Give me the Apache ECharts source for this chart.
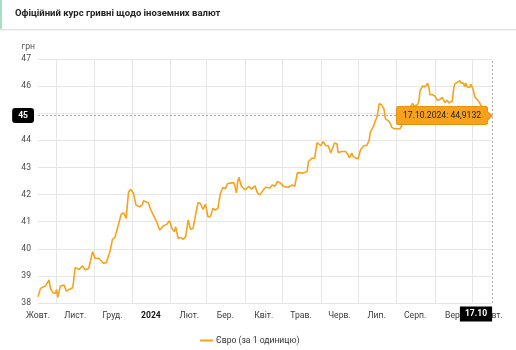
<!DOCTYPE html>
<html>
<head>
<meta charset="utf-8">
<script src="https://cdn.jsdelivr.net/npm/echarts@6/dist/echarts.min.js"></script>
<style>
  html, body { margin: 0; padding: 0; background: #fff; }
  #chart { width: 516px; height: 350px; }
</style>
</head>
<body>
<div id="chart"></div>
<script>
// Official UAH rate per 1 EUR, Oct 2023 - Oct 2024
const dates = [
  '2023-10-17','2023-10-19','2023-10-20','2023-10-23','2023-10-24','2023-10-26','2023-10-27','2023-10-29','2023-10-31',
  '2023-11-01','2023-11-02','2023-11-04','2023-11-07','2023-11-09','2023-11-11','2023-11-14','2023-11-16','2023-11-19','2023-11-22','2023-11-24','2023-11-27','2023-11-30',
  '2023-12-02','2023-12-05','2023-12-07','2023-12-09','2023-12-11','2023-12-14','2023-12-16','2023-12-18','2023-12-20','2023-12-23','2023-12-25','2023-12-27','2023-12-29','2023-12-31',
  '2024-01-02','2024-01-04','2024-01-07','2024-01-09','2024-01-10','2024-01-14','2024-01-16','2024-01-18','2024-01-21','2024-01-23','2024-01-26','2024-01-29','2024-01-31',
  '2024-02-02','2024-02-04','2024-02-05','2024-02-07','2024-02-09','2024-02-11','2024-02-13','2024-02-15','2024-02-17','2024-02-19','2024-02-21','2024-02-23','2024-02-25','2024-02-27','2024-02-29',
  '2024-03-02','2024-03-04','2024-03-06','2024-03-08','2024-03-10','2024-03-12','2024-03-14','2024-03-16','2024-03-18','2024-03-21','2024-03-23','2024-03-25','2024-03-26','2024-03-27','2024-03-29',
  '2024-04-01','2024-04-04','2024-04-06','2024-04-09','2024-04-11','2024-04-13','2024-04-16','2024-04-18','2024-04-21','2024-04-23','2024-04-25','2024-04-27','2024-04-29',
  '2024-05-02','2024-05-06','2024-05-09','2024-05-11','2024-05-13','2024-05-15','2024-05-18','2024-05-19','2024-05-21','2024-05-22','2024-05-23','2024-05-25','2024-05-27','2024-05-29','2024-05-30',
  '2024-06-01','2024-06-03','2024-06-05','2024-06-07','2024-06-09','2024-06-10','2024-06-12','2024-06-14','2024-06-15','2024-06-18','2024-06-19','2024-06-21','2024-06-23','2024-06-24','2024-06-26','2024-06-27','2024-06-29','2024-06-30',
  '2024-07-01','2024-07-03','2024-07-04','2024-07-06','2024-07-08','2024-07-10','2024-07-11','2024-07-13','2024-07-14','2024-07-15','2024-07-16','2024-07-17','2024-07-18','2024-07-20','2024-07-22','2024-07-23','2024-07-24','2024-07-26','2024-07-27','2024-07-28','2024-07-30',
  '2024-08-01','2024-08-04','2024-08-05','2024-08-07','2024-08-10','2024-08-14','2024-08-15','2024-08-18','2024-08-19','2024-08-20','2024-08-22','2024-08-24','2024-08-26','2024-08-27','2024-08-28','2024-08-30',
  '2024-09-01','2024-09-03','2024-09-05','2024-09-07','2024-09-09','2024-09-11','2024-09-12','2024-09-15','2024-09-16','2024-09-17','2024-09-19','2024-09-21','2024-09-22','2024-09-24','2024-09-25','2024-09-26','2024-09-27','2024-09-29','2024-09-30',
  '2024-10-01','2024-10-02','2024-10-03','2024-10-05','2024-10-06','2024-10-08','2024-10-09','2024-10-12','2024-10-15','2024-10-17'
];
const rates = [
  38.23,38.54,38.60,38.63,38.66,38.85,38.54,38.38,38.36,
  38.50,38.21,38.63,38.66,38.44,38.50,38.56,39.31,39.24,39.37,39.22,39.28,39.89,
  39.65,39.65,39.56,39.46,39.49,39.89,40.35,40.42,40.75,41.27,41.33,41.12,42.10,42.19,
  42.04,41.61,41.55,41.61,41.77,41.70,41.43,41.24,40.96,40.69,40.84,40.91,41.03,
  40.75,40.63,40.81,40.38,40.42,40.35,40.44,41.06,40.72,40.75,41.24,41.70,41.67,41.45,41.65,
  41.18,41.18,41.49,41.43,41.49,42.04,42.26,42.22,42.41,42.43,42.43,42.06,42.47,42.64,42.30,
  42.17,42.30,42.20,42.32,42.05,41.99,42.20,42.27,42.24,42.36,42.30,42.48,42.44,
  42.30,42.27,42.36,42.30,42.79,42.81,42.79,42.73,42.85,43.22,43.22,43.34,43.34,43.92,43.87,
  43.80,43.95,43.80,43.80,43.53,43.55,43.90,43.87,43.55,43.59,43.53,43.59,43.47,43.35,43.53,43.41,43.35,43.41,
  43.32,43.65,43.71,43.81,43.81,44.01,44.31,44.49,44.58,44.73,44.82,45.04,45.35,45.31,45.14,44.80,44.74,44.70,44.62,44.49,44.43,
  44.43,44.43,44.53,44.85,45.10,45.36,45.27,45.31,45.43,45.83,46.00,45.98,46.10,45.98,45.68,45.68,
  45.63,45.48,45.51,45.58,45.40,45.48,45.38,45.44,45.87,46.08,46.14,46.20,46.11,46.11,45.98,46.11,45.97,45.95,46.07,
  46.13,45.85,45.61,45.51,45.49,45.31,45.19,45.05,44.98,44.9132
];
// Month names for the axis (January shows the year instead)
const monthNames = ['2024','Лют.','Бер.','Квіт.','Трав.','Черв.','Лип.','Серп.','Вер.','Жовт.','Лист.','Груд.'];
const yTicks = { min: 38, max: 47, step: 1 };
const titleText = 'Офіційний курс гривні щодо іноземних валют';
const seriesName = 'Євро (за 1 одиницю)';
const unitName = 'грн';

function ts(s) {
  const p = s.split('-').map(Number);
  return new Date(p[0], p[1] - 1, p[2]).getTime();
}
const startTs = ts(dates[0]);
const endTs = ts(dates[dates.length - 1]);

// Month boundaries (grid lines) and mid-month label positions
const monthStarts = [];
const monthMids = [];
{
  const d0 = new Date(startTs);
  let y = d0.getFullYear(), m = d0.getMonth();
  for (let i = 0; i < 14; i++) {
    const first = new Date(y, m, 1).getTime();
    const mid = new Date(y, m, 16).getTime();
    if (first > startTs && first < endTs) monthStarts.push(first);
    const midC = Math.max(mid, startTs);
    if (midC <= endTs) monthMids.push(midC);
    m++; if (m > 11) { m = 0; y++; }
  }
}

const lastIdx = dates.length - 1;
// the focused (latest) point carries a small symbol offset so the callout sits beside it
const data = dates.map((d, i) => i === lastIdx
  ? { value: [ts(d), rates[i]], symbolOffset: [6, 0] }
  : [ts(d), rates[i]]);
const pad = n => (n < 10 ? '0' : '') + n;
const fmtDay = t => { const d = new Date(t); return pad(d.getDate()) + '.' + pad(d.getMonth() + 1); };
const fmtFull = t => { const d = new Date(t); return fmtDay(t) + '.' + d.getFullYear(); };

const FONT = 'Roboto, "Noto Sans", sans-serif';
const FS = 8.6;
const chart = echarts.init(document.getElementById('chart'), null, { renderer: 'canvas' });

chart.setOption({
  animation: false,
  textStyle: { fontFamily: FONT },
  graphic: [
    { type: 'rect', left: 0, top: 0, shape: { width: 2, height: 29 }, style: { fill: '#a9dfc0' }, silent: true },
    { type: 'rect', left: 0, top: 29, shape: { width: 516, height: 1 }, style: { fill: '#e3e3e3' }, silent: true },
    { type: 'rect', left: 0, top: 30, shape: { width: 516, height: 1 }, style: { fill: '#f3f3f3' }, silent: true }
  ],
  title: {
    text: titleText,
    left: 10, top: 4,
    textStyle: { fontSize: 9.5, fontWeight: 'bold', color: '#222', fontFamily: FONT }
  },
  legend: {
    data: [seriesName],
    left: 195, top: 331,
    icon: 'rect', itemWidth: 13, itemHeight: 2, itemGap: 6,
    textStyle: { fontSize: FS, color: '#333', fontFamily: FONT, padding: [0, 0, 0, -2] }
  },
  grid: { left: 38, right: 24, top: 59, bottom: 47, containLabel: false },
  tooltip: {
    trigger: 'item',
    position: 'left',
    alwaysShowContent: true,
    showDelay: 0,
    transitionDuration: 0,
    backgroundColor: '#f7a21c',
    borderColor: '#e8920e',
    borderWidth: 1,
    padding: [3, 6],
    textStyle: { fontSize: FS, color: '#222', fontFamily: FONT, lineHeight: 11 },
    extraCssText: 'box-shadow:none;border-radius:2px;',
    formatter: p => fmtFull(p.value[0]) + ': ' + String(p.value[1]).replace('.', ',')
  },
  xAxis: {
    type: 'value',
    min: startTs,
    max: endTs,
    axisLine: { show: false },
    axisTick: { show: false, customValues: monthStarts },
    splitLine: { show: true, lineStyle: { color: '#e6e6e6', width: 1 } },
    axisLabel: {
      customValues: monthMids,
      margin: 8,
      fontSize: FS,
      color: '#3a3a3a',
      hideOverlap: false,
      showMinLabel: true,
      showMaxLabel: true,
      formatter: v => {
        const m = new Date(v).getMonth();
        return m === 0 ? '{y|' + monthNames[0] + '}' : monthNames[m];
      },
      rich: { y: { fontWeight: 'bold', color: '#111', fontSize: FS, fontFamily: FONT } }
    },
    axisPointer: {
      show: true,
      status: 'show',
      value: endTs,
      triggerTooltip: false,
      lineStyle: { color: '#aaa', type: [2, 2], width: 1 },
      label: { show: false }
    }
  },
  yAxis: {
    type: 'value',
    min: yTicks.min,
    max: yTicks.max,
    interval: yTicks.step,
    name: unitName,
    nameLocation: 'end',
    nameGap: 8,
    nameTextStyle: { fontSize: FS, color: '#555', align: 'right', padding: [0, 3, 0, 0] },
    axisLine: { show: false },
    axisTick: { show: false },
    axisLabel: { fontSize: FS, color: '#4a4a4a', margin: 7 },
    splitLine: { show: true, lineStyle: { color: '#e6e6e6', width: 1 } },
    axisPointer: {
      show: true,
      status: 'show',
      value: rates[lastIdx],
      triggerTooltip: false,
      lineStyle: { color: '#aaa', type: [2, 2], width: 1 },
      label: {
        show: true, margin: 4, padding: [3, 6],
        backgroundColor: '#000', color: '#fff', fontSize: FS, fontWeight: 'bold',
        formatter: p => Math.round(p.value).toString()
      }
    }
  },
  series: [{
    name: seriesName,
    type: 'line',
    data: data,
    showSymbol: true,
    symbol: 'circle',
    symbolSize: 0.1,
    itemStyle: { color: '#f7a21c' },
    lineStyle: { color: '#f7a21c', width: 1.6 },
    emphasis: { disabled: true },
    markPoint: {
      silent: true,
      symbol: 'rect',
      symbolSize: 0,
      data: [{ coord: [endTs, yTicks.min], value: fmtDay(endTs) }],
      label: {
        show: true,
        position: 'inside',
        offset: [-16, 11],
        formatter: p => p.value,
        backgroundColor: '#000',
        color: '#fff',
        fontSize: FS,
        fontWeight: 'bold',
        padding: [3, 5],
        fontFamily: FONT
      }
    }
  }]
});

chart.dispatchAction({ type: 'showTip', seriesIndex: 0, dataIndex: lastIdx });
</script>
</body>
</html>
